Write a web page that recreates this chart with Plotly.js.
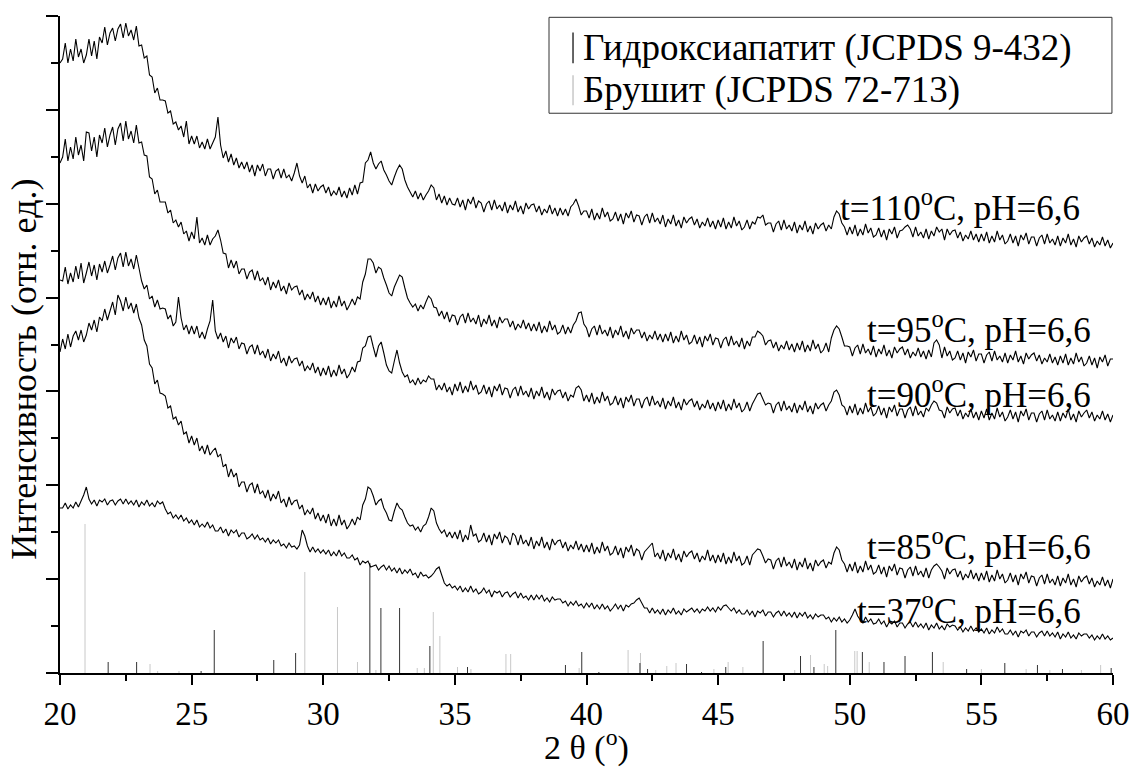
<!DOCTYPE html>
<html><head><meta charset="utf-8">
<script src="https://cdn.plot.ly/plotly-3.0.1.min.js"></script>
<style>html,body{margin:0;padding:0;background:#fff}</style>
</head><body>
<div id="chart" style="width:1131px;height:767px"></div>
<script>
// 2θ sampling grid (degrees), 20 → 60 step 0.1
const twoTheta = Array.from({length: 401}, (_, i) => +(20 + 0.1 * i).toFixed(1));

// Intensities (relative units), one row per degree
const i110 = [
 610,614,630,610,624,612,634,616,624,610,
 618,634,617,632,614,636,630,646,628,640,
 645,632,644,649,635,650,637,643,633,647,
 627,628,615,617,598,596,580,585,573,573,
 572,560,562,549,551,543,547,536,552,529,
 537,529,537,525,531,524,534,524,530,536,
 556,528,515,522,511,519,508,515,505,511,
 504,511,501,508,497,508,502,509,497,504,
 504,494,502,504,495,504,495,498,492,500,
 510,497,490,497,485,489,480,489,482,486,
 488,480,486,477,482,478,486,476,482,475,
 485,478,488,479,490,491,510,513,521,510,
 504,509,512,503,498,492,488,496,503,508,
 504,493,486,481,476,482,474,480,473,478,
 482,488,485,473,479,470,477,468,475,469,
 468,475,466,473,463,474,469,476,465,472,
 470,461,469,472,463,473,464,468,462,471,
 460,468,463,472,461,467,459,470,464,468,
 469,461,467,458,464,460,468,459,465,457,
 465,458,464,457,466,469,474,467,458,462,
 462,455,464,453,460,454,465,456,461,452,
 454,461,452,459,449,460,455,462,451,458,
 457,448,456,459,450,460,451,455,449,458,
 446,454,449,458,447,453,445,456,450,454,
 456,448,454,445,451,447,455,446,452,444,
 453,446,455,444,451,445,456,447,452,443,
 446,453,444,451,449,456,455,458,448,450,
 450,441,449,452,443,453,444,448,442,451,
 440,448,443,452,441,447,439,450,444,448,
 450,442,448,444,456,462,459,450,446,438,
 446,439,448,437,444,438,449,440,445,436,
 438,445,436,443,433,444,439,446,435,442,
 443,446,448,444,436,446,437,441,435,444,
 434,442,437,446,441,444,433,444,438,442,
 443,435,441,432,438,434,442,433,439,431,
 439,432,441,430,437,431,442,433,438,429,
 432,439,430,437,427,438,433,440,429,436,
 436,427,435,438,429,439,430,434,428,437,
 427,435,430,439,428,434,426,437,431,435,
 437,429,435,426,432,428,436,427,433,425,
 430];
const i95 = [
 510,516,534,512,526,514,536,518,528,512,
 541,540,522,536,516,538,530,545,526,538,
 546,528,544,550,532,552,534,542,530,548,
 530,531,518,517,496,494,479,483,471,471,
 471,460,463,450,453,446,451,439,442,432,
 441,434,456,430,435,428,438,428,434,437,
 443,433,420,419,405,413,405,412,399,404,
 404,394,401,403,393,402,392,395,388,396,
 383,391,385,393,382,387,379,390,383,386,
 387,378,383,373,379,374,381,371,377,368,
 375,368,376,365,372,366,377,367,372,363,
 368,374,368,376,374,391,399,414,414,410,
 400,406,404,395,388,380,377,386,392,398,
 396,385,375,370,366,369,362,368,364,371,
 377,374,366,365,357,362,354,361,351,358,
 357,348,356,359,350,360,351,355,349,358,
 346,354,349,358,347,353,345,356,350,354,
 354,346,352,343,349,345,353,344,350,342,
 349,342,351,340,347,341,352,343,348,339,
 341,348,339,346,340,348,352,360,361,349,
 345,336,344,347,338,348,339,343,337,346,
 335,343,338,347,336,342,334,345,339,343,
 343,335,341,332,338,334,342,333,339,331,
 339,332,341,330,337,331,342,333,338,329,
 331,338,329,336,326,337,332,339,328,335,
 334,325,333,336,327,337,328,332,326,335,
 324,332,327,336,336,342,340,337,328,332,
 333,325,331,322,328,324,332,323,329,321,
 330,323,332,321,328,322,333,324,329,320,
 323,330,321,335,343,347,344,336,327,327,
 326,317,325,328,319,329,320,324,318,327,
 316,324,319,328,317,323,315,326,320,324,
 326,318,324,315,321,317,325,316,322,314,
 323,316,330,333,328,315,326,317,322,313,
 315,322,313,320,310,321,316,323,312,319,
 319,310,318,321,312,322,313,317,311,320,
 310,318,313,322,311,317,309,320,314,318,
 320,312,318,309,315,311,319,310,316,308,
 317,310,319,308,315,309,320,311,316,307,
 310,317,308,315,305,316,311,318,307,314,
 314];
const i90 = [
 393,392,406,389,400,391,407,394,410,390,
 400,411,397,408,393,409,401,412,400,408,
 417,403,415,420,406,421,407,414,404,418,
 405,392,384,388,374,377,366,373,364,365,
 364,354,358,347,351,376,355,343,348,339,
 347,339,347,335,341,334,344,352,373,342,
 334,340,331,337,325,335,330,336,324,330,
 329,319,326,328,319,328,318,322,315,324,
 312,319,314,322,310,315,307,317,310,314,
 315,307,312,302,307,303,310,300,306,297,
 305,298,307,296,303,297,308,299,304,295,
 299,306,301,311,312,325,327,336,337,326,
 316,327,331,320,308,302,300,312,323,310,
 301,296,298,290,293,288,295,289,293,291,
 297,294,294,283,288,283,290,281,286,278,
 289,282,291,280,287,281,292,283,288,279,
 281,288,279,286,276,287,282,289,278,285,
 284,275,283,286,277,287,278,282,276,285,
 274,282,277,286,275,281,273,284,278,282,
 283,275,281,272,278,276,285,287,283,272,
 278,271,280,269,276,270,281,272,277,268,
 270,277,268,275,265,276,271,278,267,274,
 274,265,273,276,267,277,268,272,266,275,
 264,272,267,276,265,271,263,274,268,272,
 274,266,272,263,269,265,273,264,270,262,
 271,264,273,262,269,263,274,265,270,261,
 264,271,262,269,274,279,280,274,268,270,
 269,260,268,271,262,272,263,267,261,270,
 260,268,263,272,261,267,259,270,264,268,
 270,262,268,272,281,283,278,268,266,258,
 267,260,269,258,265,259,270,261,266,257,
 260,267,258,265,255,266,261,268,257,264,
 264,255,263,266,257,267,258,262,256,265,
 262,268,272,270,263,262,255,266,260,264,
 265,257,263,254,260,256,264,255,261,253,
 262,255,264,253,260,254,265,256,261,252,
 256,263,254,261,251,262,257,264,253,260,
 260,251,259,262,253,263,254,258,252,261,
 252,260,255,264,253,259,251,262,256,260,
 263,255,261,252,258,254,262,253,259,251,
 258];
const i85 = [
 321,334,324,339,326,337,342,333,343,331,
 338,350,343,353,341,356,352,364,353,362,
 371,358,378,372,362,376,364,370,360,369,
 355,348,333,327,309,305,289,293,280,279,
 277,265,267,254,256,248,252,239,241,230,
 237,228,235,222,227,219,228,218,222,225,
 216,219,206,209,196,204,196,200,186,191,
 191,181,188,190,180,189,179,182,175,183,
 172,179,174,182,170,174,166,176,168,172,
 173,164,168,158,163,159,165,154,160,152,
 158,150,159,147,154,147,158,148,153,144,
 148,154,148,156,153,168,174,186,184,177,
 168,172,174,165,160,153,152,162,170,165,
 163,156,150,147,148,143,146,141,147,149,
 156,165,162,150,144,140,143,136,141,135,
 141,134,143,131,138,133,148,137,139,131,
 133,140,131,138,128,139,134,141,130,137,
 135,128,140,137,128,138,129,133,127,136,
 124,132,127,136,125,131,123,134,128,132,
 133,125,131,122,128,124,132,123,129,121,
 128,121,130,119,126,120,131,122,127,118,
 120,127,118,125,115,126,121,128,117,124,
 122,113,121,124,127,130,116,120,114,123,
 112,120,115,124,113,119,111,122,116,120,
 122,114,120,111,117,113,123,112,118,110,
 118,111,120,109,116,110,121,112,117,108,
 110,117,108,118,121,124,123,117,110,114,
 113,104,112,115,106,116,107,111,105,114,
 103,111,106,115,104,110,102,113,107,111,
 113,105,111,109,120,126,123,113,109,101,
 109,102,111,100,107,101,112,103,108,99,
 101,108,99,106,96,107,102,109,98,105,
 104,95,103,106,97,107,98,102,96,105,
 95,103,107,109,106,102,94,105,99,103,
 104,96,102,93,99,95,103,94,100,92,
 100,93,102,91,98,92,103,94,99,90,
 93,100,91,98,88,99,94,101,90,97,
 96,87,95,98,89,99,90,94,88,97,
 87,95,90,99,88,94,86,97,91,95,
 97,89,95,86,92,88,96,87,93,85,
 94];
const i37 = [
 165,165,170,164,168,165,171,166,172,178,
 186,174,169,173,167,173,171,174,168,172,
 173,168,172,174,169,174,169,172,168,173,
 166,171,168,173,167,170,166,172,169,171,
 164,159,161,155,158,154,158,152,155,150,
 153,148,153,146,149,146,151,145,148,142,
 142,146,140,144,137,143,140,143,136,140,
 140,134,136,139,134,138,133,135,131,135,
 129,133,130,133,127,129,125,130,126,127,
 124,128,143,137,127,121,126,121,124,120,
 123,119,123,117,121,117,123,117,120,115,
 115,118,113,115,108,112,110,112,106,107,
 108,103,106,108,103,107,102,105,100,105,
 99,103,100,104,98,100,95,101,97,98,
 95,97,100,104,106,98,90,87,89,85,
 87,83,87,81,85,81,87,81,84,79,
 81,85,80,83,76,82,80,82,76,80,
 81,76,79,81,75,80,75,77,73,78,
 73,78,74,78,72,75,71,76,73,74,
 74,70,72,67,71,68,72,67,69,65,
 70,66,70,64,68,64,69,64,67,62,
 65,69,64,68,62,68,66,69,70,73,
 75,70,65,65,60,65,60,63,59,64,
 58,63,60,65,59,62,58,64,61,63,
 65,61,64,60,64,62,66,62,65,61,
 66,63,67,68,65,62,65,60,63,59,
 59,63,58,62,56,62,60,63,57,61,
 61,56,60,62,57,62,57,60,56,61,
 55,60,57,61,55,58,54,59,56,58,
 58,54,56,51,55,52,56,51,54,50,
 53,58,64,57,53,50,56,51,54,49,
 50,54,49,52,46,51,49,52,46,50,
 50,45,49,51,46,51,46,49,45,50,
 43,48,45,50,44,47,43,49,46,48,
 47,43,46,41,45,42,47,42,45,41,
 44,40,45,39,43,40,46,41,44,39,
 39,43,38,42,36,42,40,43,37,41,
 41,36,40,42,37,42,37,40,36,41,
 34,39,36,41,35,38,34,40,37,39,
 39,35,38,33,37,34,39,34,37,33,
 35];

// Reference stick patterns (position 2θ, relative intensity)
const hapPos = [21.83,22.91,25.36,25.86,28.12,28.95,31.77,32.19,32.9,34.05,35.48,39.2,39.82,40.47,42.03,42.32,43.8,44.37,45.29,46.71,48.13,48.64,49.47,50.48,51.3,52.1,53.14,54.44,55.89,57.13,58.08,59.93];
const hapInt = [11,11,2,43,13,20,110,65,65,27,6,8,21,1,10,4,9,1,6,32,17,6,43,21,11,17,21,4,10,8,4,5];
const brPos = [20.95,23.42,23.71,24.52,29.3,30.54,31.3,32.0,33.57,33.84,34.18,34.43,35.1,35.61,36.94,37.12,39.72,41.58,42.05,42.63,43.05,43.4,44.84,45.38,45.94,47.91,48.51,49.03,49.16,50.19,50.28,50.74,53.55,55.0,56.7,57.6,58.8,59.53];
const brInt = [149,9,2,2,101,66,11,3,5,5,61,37,6,4,19,19,5,23,20,3,7,10,4,11,6,3,18,9,7,22,22,11,11,4,4,3,3,8];

const seriesNames = ['t=110<sup>o</sup>C, pH=6,6','t=95<sup>o</sup>C, pH=6,6','t=90<sup>o</sup>C, pH=6,6','t=85<sup>o</sup>C, pH=6,6','t=37<sup>o</sup>C, pH=6,6'];
const legendNames = ['Гидроксиапатит (JCPDS 9-432)', 'Брушит (JCPDS 72-713)'];
const xTickVals = [20,25,30,35,40,45,50,55,60];
const yTitle = 'Интенсивность (отн. ед.)';

function sticks(pos, h) {
  const x = [], y = [];
  pos.forEach((p, k) => { x.push(p, p, null); y.push(0, h[k], null); });
  return {x, y};
}
const br = sticks(brPos, brInt), hap = sticks(hapPos, hapInt);
const FONT = '"Liberation Serif", "Times New Roman", serif';

const traces = [
  {x: br.x, y: br.y, mode: 'lines', line: {color: '#c8c8c8', width: 1, simplify: false}, name: legendNames[1], showlegend: false, hoverinfo: 'skip'},
  {x: hap.x, y: hap.y, mode: 'lines', line: {color: '#333', width: 1, simplify: false}, name: legendNames[0], showlegend: false, hoverinfo: 'skip'}
];
[i110, i95, i90, i85, i37].forEach((s, k) => traces.push({x: twoTheta.slice(0, s.length), y: s, mode: 'lines', line: {color: '#000', width: 1.1, simplify: false}, name: seriesNames[k], showlegend: false}));

const labelPos = [[49.55, 468], [50.57, 346], [50.57, 281], [50.57, 129], [50.2, 65]];
const annotations = seriesNames.map((t, k) => ({x: labelPos[k][0], y: labelPos[k][1], xref: 'x', yref: 'y', text: t, showarrow: false, xanchor: 'left', yanchor: 'middle', font: {family: FONT, size: 35, color: '#000'}}));
annotations.push({x: 0.495, y: 0.952, xref: 'paper', yref: 'paper', text: legendNames[0], showarrow: false, xanchor: 'left', yanchor: 'middle', font: {family: FONT, size: 37, color: '#000'}});
annotations.push({x: 0.495, y: 0.887, xref: 'paper', yref: 'paper', text: legendNames[1], showarrow: false, xanchor: 'left', yanchor: 'middle', font: {family: FONT, size: 37, color: '#000'}});
annotations.push({x: -0.034, y: 0.462, xref: 'paper', yref: 'paper', text: yTitle, textangle: -90, showarrow: false, xanchor: 'center', yanchor: 'middle', font: {family: FONT, size: 36, color: '#000'}});

const shapes = [
  {type: 'rect', xref: 'paper', yref: 'paper', x0: 0.4644, x1: 0.999, y0: 0.852, y1: 0.998, line: {color: '#333', width: 1}, fillcolor: 'rgba(0,0,0,0)'},
  {type: 'line', xref: 'paper', yref: 'paper', x0: 0.4872, x1: 0.4872, y0: 0.928, y1: 0.975, line: {color: '#333', width: 1.5}},
  {type: 'line', xref: 'paper', yref: 'paper', x0: 0.4872, x1: 0.4872, y0: 0.864, y1: 0.910, line: {color: '#c8c8c8', width: 1.5}}
];

const layout = {
  width: 1131, height: 767,
  margin: {l: 60, r: 18, t: 16, b: 94},
  paper_bgcolor: '#fff', plot_bgcolor: '#fff',
  font: {family: FONT, color: '#000', size: 32},
  showlegend: false,
  xaxis: {range: [20, 60], tickvals: xTickVals, ticks: 'outside', ticklen: 10, tickwidth: 2, tickcolor: '#000',
    showline: true, linecolor: '#000', linewidth: 2, showgrid: false, zeroline: false,
    tickfont: {family: FONT, size: 33, color: '#000'},
    minor: {dtick: 2.5, ticks: 'outside', ticklen: 6, tickwidth: 2, tickcolor: '#000', showgrid: false},
    title: {text: '2 θ (<sup>o</sup>)', font: {family: FONT, size: 34, color: '#000'}, standoff: 10}},
  yaxis: {range: [0, 657], tick0: 0, dtick: 657 / 7, ticks: 'outside', ticklen: 12, tickwidth: 2, tickcolor: '#000',
    showticklabels: false, showline: true, linecolor: '#000', linewidth: 2, showgrid: false, zeroline: false,
    minor: {dtick: 657 / 14, ticks: 'outside', ticklen: 7, tickwidth: 2, tickcolor: '#000', showgrid: false}},
  annotations, shapes
};
Plotly.newPlot('chart', traces, layout, {staticPlot: true, displayModeBar: false});
</script>
</body></html>
